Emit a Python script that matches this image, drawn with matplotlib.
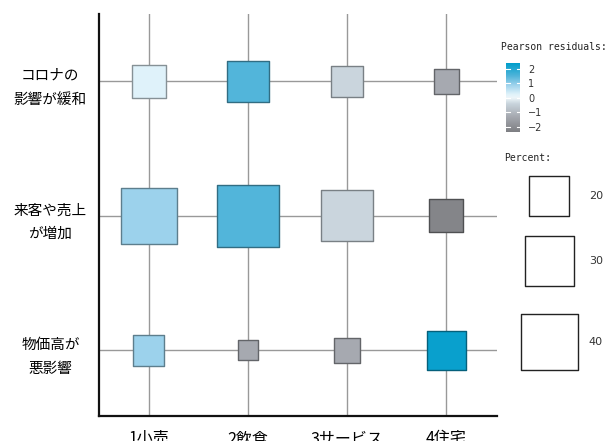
import numpy as np
import matplotlib
matplotlib.use("Agg")
import matplotlib.pyplot as plt
from matplotlib.colors import LinearSegmentedColormap, Normalize

plt.rcParams['font.family'] = ['Noto Sans CJK JP', 'DejaVu Sans']

# categories
industries = ['1小売', '2飲食', '3サービス', '4住宅']
effects = ['コロナの\n影響が緩和', '来客や売上\nが増加', '物価高が\n悪影響']

# percent per cell (rows = effects, cols = industries)
pct_corona = [13.7, 21.6, 12.2, 7.6]
pct_sales = [38.1, 47.1, 32.5, 13.7]
pct_prices = [11.9, 4.9, 7.8, 19.0]

# pearson residuals per cell
res_corona = [0.25, 1.5, -0.4, -1.3]
res_sales = [0.9, 1.5, -0.4, -2.2]
res_prices = [0.9, -1.3, -1.3, 2.3]

legend_pcts = [20, 30, 40]
cbar_ticks = [-2, -1, 0, 1, 2]

pct = np.array([pct_corona, pct_sales, pct_prices])
res = np.array([res_corona, res_sales, res_prices])

vmin, vmax = -2.35, 2.4
stops = [(-2.35, '#7e7f83'), (-1.3, '#a6a9b0'), (-0.4, '#c9d5dd'),
         (0.0, '#eef6fa'), (0.25, '#e0f2fa'), (0.9, '#9dd2ec'),
         (1.5, '#53b5da'), (2.4, '#009ecb')]
cmap = LinearSegmentedColormap.from_list(
    'resid', [((v - vmin) / (vmax - vmin), c) for v, c in stops])
norm = Normalize(vmin, vmax)

SCALE = 42.0  # marker area (pt^2) per percent

fig = plt.figure(figsize=(6.07, 4.41), dpi=100)
ax = fig.add_axes([0.163, 0.0567, 0.656, 0.911])

for x in range(4):
    ax.axvline(x, color='#999999', lw=1, zorder=0)
for y in range(3):
    ax.axhline(y, color='#999999', lw=1, zorder=0)

xx, yy = np.meshgrid(np.arange(4), np.arange(3))
colors = cmap(norm(res.ravel()))
edges = [tuple(np.array(c[:3]) * 0.6) for c in colors]
ax.scatter(xx.ravel(), yy.ravel(), s=pct.ravel() * SCALE, marker='s',
           c=colors, edgecolors=edges, linewidths=1, zorder=2)

ax.set_xlim(-0.505, 3.515)
ax.set_ylim(2.49, -0.5)
ax.set_xticks(range(4))
ax.set_xticklabels(industries, fontsize=11.5)
ax.set_yticks(range(3))
ax.set_yticklabels(effects, fontsize=10.5, ha='center', linespacing=1.9)
ax.tick_params(axis='both', length=0)
ax.tick_params(axis='x', pad=10)
ax.tick_params(axis='y', pad=35)
for s in ['top', 'right']:
    ax.spines[s].set_visible(False)
for s in ['left', 'bottom']:
    ax.spines[s].set_linewidth(1.6)
    ax.spines[s].set_color('#111111')

# colour bar for residuals
fig.text(501 / 607, 1 - 50 / 441, 'Pearson residuals:', family='DejaVu Sans Mono',
         fontsize=7, color='#222222', va='baseline')
cax = fig.add_axes([506 / 607, 1 - 132 / 441, 14 / 607, 69 / 441])
grad = np.linspace(vmin, vmax, 200).reshape(-1, 1)
cax.imshow(grad, cmap=cmap, norm=norm, aspect='auto', origin='lower',
           extent=[0, 1, vmin, vmax])
for t in cbar_ticks:
    cax.plot([0, 0.25], [t, t], color='white', lw=0.8)
    cax.plot([0.75, 1], [t, t], color='white', lw=0.8)
cax.set_ylim(vmin, vmax)
cax.set_xlim(0, 1)
cax.set_xticks([])
cax.yaxis.tick_right()
cax.set_yticks(cbar_ticks)
cax.set_yticklabels([str(t).replace('-', '\u2212') for t in cbar_ticks],
                    fontsize=7, family='DejaVu Sans', color='#333333')
cax.tick_params(axis='y', length=0, pad=6)
for s in cax.spines.values():
    s.set_visible(False)

# size legend
fig.text(504 / 607, 1 - 161 / 441, 'Percent:', family='DejaVu Sans Mono',
         fontsize=7, color='#222222', va='baseline')
lax = fig.add_axes([500 / 607, 1 - 380 / 441, 107 / 607, 210 / 441])
lax.set_xlim(0, 1)
lax.set_ylim(380, 170)
ly = [196, 261, 342]
lax.scatter([0.46] * 3, ly, s=np.array(legend_pcts) * SCALE, marker='s',
            facecolors='white', edgecolors='#222222', linewidths=1)
for v, y in zip(legend_pcts, ly):
    lax.text(0.83, y, str(v), fontsize=8, family='DejaVu Sans',
             va='center', ha='left', color='#333333')
lax.axis('off')

fig.savefig('out.png', dpi=100)
